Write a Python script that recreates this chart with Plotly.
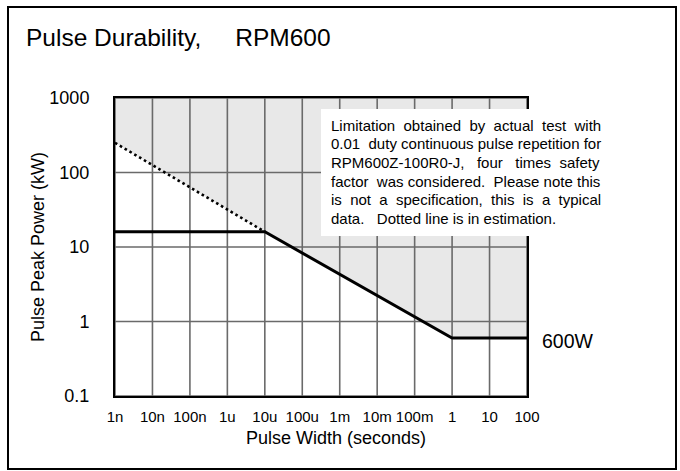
import plotly.graph_objects as go

# ---------------- data ----------------
pulse_width_s = [1e-9, 1e-5, 1, 100]          # solid limit line (x)
power_limit_kw = [16, 16, 0.6, 0.6]           # solid limit line (y)
est_width_s = [1e-9, 1e-5]                    # dotted estimate (x)
est_power_kw = [250, 16]                      # dotted estimate (y)

x_tickvals = [1e-9, 1e-8, 1e-7, 1e-6, 1e-5, 1e-4, 1e-3, 1e-2, 1e-1, 1, 10, 100]
x_ticktext = ["1n", "10n", "100n", "1u", "10u", "100u", "1m", "10m", "100m", "1", "10", "100"]
y_tickvals = [0.1, 1, 10, 100, 1000]
y_ticktext = ["0.1", "1", "10", "100", "1000"]

title_text = "Pulse Durability,\u00a0\u00a0\u00a0\u00a0\u00a0RPM600"
x_title = "Pulse Width (seconds)"
y_title = "Pulse Peak Power (kW)"
end_label = "600W"
note_lines = [
    "Limitation obtained by actual test with",
    "0.01 duty continuous pulse repetition for",
    "RPM600Z-100R0-J, four times safety",
    "factor was considered.  Please note this",
    "is not a specification, this is a typical",
    "data.  Dotted line is in estimation.",
]

FONT = "Liberation Sans, Arial, sans-serif"
W, H = 680, 471
ML, MT = 115, 98
MR, MB = 153, 75
PW, PH = W - ML - MR, H - MT - MB


def px(x):
    """picture x pixel -> paper coordinate"""
    return (x - ML) / PW


def py(y):
    """picture y pixel -> paper coordinate"""
    return (H - MB - y) / PH


# Arial / Liberation Sans advance widths (1/1000 em)
AW = {' ': 278, ',': 278, '-': 333, '.': 278, 'J': 500, 'L': 556, 'M': 833, 'P': 667,
      'R': 722, 'Z': 611, 'D': 722,
      'a': 556, 'b': 556, 'c': 500, 'd': 556, 'e': 556, 'f': 278, 'h': 556, 'i': 222,
      'l': 222, 'm': 833, 'n': 556, 'o': 556, 'p': 556, 'r': 333, 's': 500, 't': 278,
      'u': 556, 'w': 722, 'y': 500}


def tw(s, size):
    return sum(AW.get(c, 556) for c in s) / 1000 * size


def justify(line, size, width):
    parts = line.split(" ")
    words, gaps = [], []
    for p in parts:
        if p == "" and words:
            gaps[-1] += 1
        else:
            words.append(p)
            gaps.append(1)
    gaps = gaps[:-1]
    natural = tw(line, size)
    extra = max(int(round((width - natural) / tw(" ", size))), 0)
    i = 0
    while extra > 0 and gaps:
        gaps[i % len(gaps)] += 1
        extra -= 1
        i += 1
    out = words[0]
    for g, w_ in zip(gaps, words[1:]):
        out += "\u00a0" * g + w_
    return out


fig = go.Figure()

# shaded region above the limit envelope
env_x = est_width_s + pulse_width_s[2:]
env_y = est_power_kw + power_limit_kw[2:]
fig.add_trace(go.Scatter(
    x=env_x + [x_tickvals[-1], x_tickvals[0]],
    y=env_y + [y_tickvals[-1], y_tickvals[-1]],
    fill="toself", fillcolor="#e8e8e8", mode="lines",
    line=dict(width=0, color="#e8e8e8"), hoverinfo="skip"))

# grid lines drawn above the shading
gx, gy = [], []
for v in x_tickvals:
    gx += [v, v, None]
    gy += [y_tickvals[0], y_tickvals[-1], None]
for v in y_tickvals:
    gx += [x_tickvals[0], x_tickvals[-1], None]
    gy += [v, v, None]
fig.add_trace(go.Scatter(x=gx, y=gy, mode="lines",
                         line=dict(color="#6a6a6a", width=1.6), hoverinfo="skip"))

# dotted estimate
fig.add_trace(go.Scatter(x=est_width_s, y=est_power_kw, mode="lines",
                         line=dict(color="black", width=2.6, dash="2.6px,3px")))
# solid limit
fig.add_trace(go.Scatter(x=pulse_width_s, y=power_limit_kw, mode="lines",
                         line=dict(color="black", width=3)))

shapes = [
    dict(type="rect", xref="paper", yref="paper",
         x0=px(321), x1=px(601), y0=py(236), y1=py(109),
         fillcolor="white", line=dict(width=0), layer="above"),
    dict(type="rect", xref="paper", yref="paper",
         x0=px(8), x1=px(676), y0=py(469), y1=py(7),
         fillcolor="rgba(0,0,0,0)", line=dict(color="black", width=2), layer="above"),
]

annotations = [
    dict(text=title_text, xref="paper", yref="paper", x=px(24), y=py(37),
         xanchor="left", yanchor="middle", showarrow=False,
         font=dict(size=24.5, color="black", family=FONT)),
    dict(text=x_title, xref="paper", yref="paper", x=px(336), y=py(438),
         xanchor="center", yanchor="middle", showarrow=False,
         font=dict(size=18, color="black", family=FONT)),
    dict(text=y_title, xref="paper", yref="paper", x=px(38), y=0.5, textangle=-90,
         xanchor="center", yanchor="middle", showarrow=False,
         font=dict(size=18, color="black", family=FONT)),
    dict(text=end_label, x=2, y=-0.2218, xref="x", yref="y",
         xanchor="left", yanchor="middle", xshift=13, yshift=-3, showarrow=False,
         font=dict(size=19.5, color="black", family=FONT)),
]

NOTE_SIZE = 15
LEFT, RIGHT = 329, 598
for i, line in enumerate(note_lines):
    if i == len(note_lines) - 1:
        txt = line.replace("  ", "\u00a0\u00a0\u00a0")
    else:
        txt = justify(line, NOTE_SIZE, RIGHT - LEFT)
    annotations.append(dict(
        text=txt, xref="paper", yref="paper", x=px(LEFT), y=py(125 + 18.7 * i),
        xanchor="left", yanchor="middle", showarrow=False,
        font=dict(size=NOTE_SIZE, color="black", family=FONT)))

fig.update_layout(
    width=W, height=H,
    margin=dict(l=ML, r=MR, t=MT, b=MB, pad=0),
    paper_bgcolor="white", plot_bgcolor="white",
    showlegend=False,
    font=dict(family=FONT, color="black"),
    shapes=shapes, annotations=annotations,
    xaxis=dict(type="log", range=[-9, 2], tickmode="array",
               tickvals=x_tickvals, ticktext=x_ticktext,
               showgrid=False, zeroline=False, showline=True, mirror=True,
               linecolor="black", linewidth=2, ticks="", layer="above traces",
               tickfont=dict(size=15, color="black", family=FONT),
               ticklabelstandoff=6, fixedrange=True),
    yaxis=dict(type="log", range=[-1, 3], tickmode="array",
               tickvals=y_tickvals, ticktext=y_ticktext,
               showgrid=False, zeroline=False, showline=True, mirror=True,
               linecolor="black", linewidth=2, ticks="", layer="above traces",
               tickfont=dict(size=18, color="black", family=FONT),
               ticklabelstandoff=20, fixedrange=True),
)

fig.write_html(
    "out.html",
    config={"displayModeBar": False},
    post_script="document.body.style.margin='0px';document.body.style.overflow='hidden';",
)
